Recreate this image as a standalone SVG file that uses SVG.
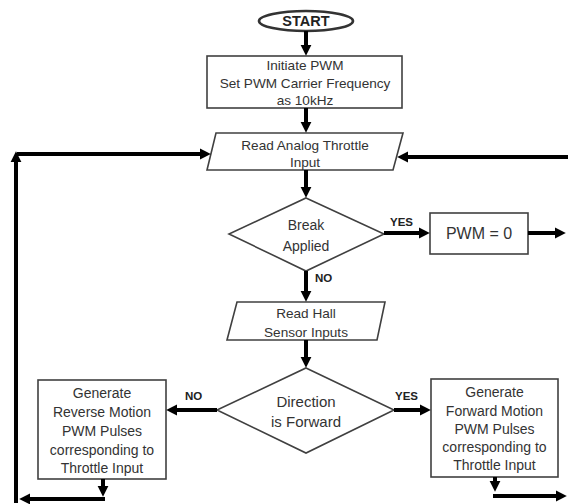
<svg xmlns="http://www.w3.org/2000/svg" width="568" height="504" viewBox="0 0 568 504">
<style>
.shape{fill:#fff;stroke:#404040;stroke-width:1.6}
.t{font-family:"Liberation Sans",Arial,sans-serif;font-size:13.6px;fill:#333;text-anchor:middle}
.lbl{font-family:"Liberation Sans",Arial,sans-serif;font-size:11.5px;font-weight:bold;fill:#222}
.c{fill:none;stroke:#000;stroke-width:4;marker-end:url(#ah)}
</style>
<defs>
<marker id="ah" viewBox="0 0 10 10" refX="2" refY="5" markerWidth="11" markerHeight="12" markerUnits="userSpaceOnUse" orient="auto">
<path d="M0,0 L10,5 L0,10 z" fill="#000"/>
</marker>
</defs>
<rect width="568" height="504" fill="#fff"/>
<g id="start">
<ellipse class="shape" cx="306" cy="21" rx="47" ry="10" style="stroke-width:2.6;stroke:#333"/>
<text class="t" x="306" y="26" style="font-weight:bold;font-size:14.5px;fill:#222">START</text>
</g>
<g id="init">
<rect class="shape" x="207" y="56" width="195" height="52"/>
<text class="t" x="305" y="70">Initiate PWM</text>
<text class="t" x="305" y="88">Set PWM Carrier Frequency</text>
<text class="t" x="305" y="105">as 10kHz</text>
</g>
<g id="read-throttle">
<polygon class="shape" points="216,133 403,133 393,170 207,170"/>
<text class="t" x="305" y="150">Read Analog Throttle</text>
<text class="t" x="305" y="167">Input</text>
</g>
<g id="break">
<polygon class="shape" points="306,198 384,234 306,271 229,234"/>
<text class="t" x="306" y="230" style="font-size:14px">Break</text>
<text class="t" x="306" y="251" style="font-size:14px">Applied</text>
</g>
<g id="pwm0">
<rect class="shape" x="430" y="213" width="98" height="41"/>
<text class="t" x="479" y="239" style="font-size:16px">PWM = 0</text>
</g>
<g id="read-hall">
<polygon class="shape" points="237,302 385,302 377,340 227,340"/>
<text class="t" x="306" y="318">Read Hall</text>
<text class="t" x="306" y="337">Sensor Inputs</text>
</g>
<g id="direction">
<polygon class="shape" points="306,368 394,410 306,453 217,410"/>
<text class="t" x="306" y="407" style="font-size:15px">Direction</text>
<text class="t" x="306" y="427" style="font-size:15px">is Forward</text>
</g>
<g id="reverse">
<rect class="shape" x="38" y="380" width="128" height="99"/>
<text class="t" x="102" y="398" style="font-size:14px">Generate</text>
<text class="t" x="102" y="417" style="font-size:14px">Reverse Motion</text>
<text class="t" x="102" y="436" style="font-size:14px">PWM Pulses</text>
<text class="t" x="102" y="455" style="font-size:14px">corresponding to</text>
<text class="t" x="102" y="473" style="font-size:14px">Throttle Input</text>
</g>
<g id="forward">
<rect class="shape" x="431" y="379" width="127" height="98"/>
<text class="t" x="494.5" y="397" style="font-size:14px">Generate</text>
<text class="t" x="494.5" y="416" style="font-size:14px">Forward Motion</text>
<text class="t" x="494.5" y="434" style="font-size:14px">PWM Pulses</text>
<text class="t" x="494.5" y="452" style="font-size:14px">corresponding to</text>
<text class="t" x="494.5" y="470" style="font-size:14px">Throttle Input</text>
</g>
<g id="connectors">
<path class="c" d="M306,31 V47"/>
<path class="c" d="M306,108 V124"/>
<path class="c" d="M17,154 H202"/>
<path class="c" d="M16,503 V160"/>
<path class="c" d="M568,157 H406"/>
<path class="c" d="M306,170 V189"/>
<path class="c" d="M384,233 H421"/>
<path class="c" d="M528,233 H557"/>
<path class="c" d="M306,271 V293"/>
<path class="c" d="M306,340 V359"/>
<path class="c" d="M217,410 H175"/>
<path class="c" d="M394,410 H422"/>
<path class="c" d="M103,479 V488"/>
<path class="c" d="M105,499 H28"/>
<path class="c" d="M495,477 V483"/>
<path class="c" d="M493,496 H558"/>
<text class="lbl" x="390" y="226">YES</text>
<text class="lbl" x="315" y="282">NO</text>
<text class="lbl" x="185" y="400">NO</text>
<text class="lbl" x="395" y="400">YES</text>
</g>
</svg>
